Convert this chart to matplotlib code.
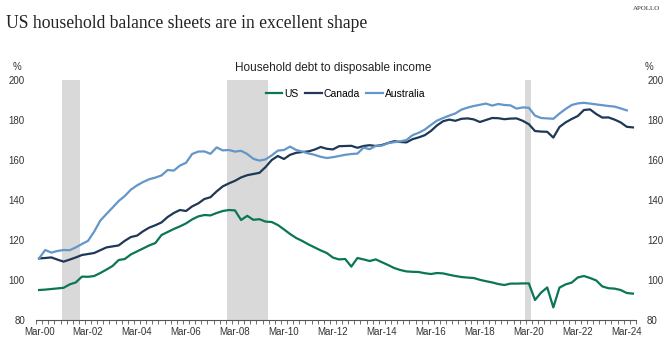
import numpy as np
import matplotlib
matplotlib.use("Agg")
import matplotlib.pyplot as plt

# Household debt to disposable income, %, quarterly from Mar-00
us = [95.0, 95.2, 95.5, 95.8, 96.1, 97.8, 98.8, 101.7, 101.6, 102.0,
      103.5, 105.2, 107.0, 110.0, 110.5, 112.8, 114.3, 115.8, 117.3, 118.5,
      122.5, 124.0, 125.5, 126.8, 128.3, 130.3, 131.8, 132.5, 132.3, 133.5,
      134.5, 135.0, 134.8, 130.0, 132.1, 130.1, 130.4, 129.2, 129.0, 127.5,
      125.3, 123.0, 121.0, 119.5, 117.8, 116.3, 114.8, 113.5, 111.2, 110.3,
      110.5, 106.7, 111.0, 110.3, 109.5, 110.3, 108.9, 107.5, 106.0, 105.0,
      104.3, 104.1, 104.0, 103.4, 103.0, 103.5, 103.3, 102.6, 102.0, 101.5,
      101.2, 101.0, 100.1, 99.4, 98.8, 98.0, 97.5, 98.2, 98.2, 98.3,
      98.3, 90.0, 93.7, 96.3, 86.3, 96.2, 97.8, 98.7, 101.3, 102.0,
      101.0, 99.8, 96.8, 95.9, 95.7, 95.0, 93.5, 93.2]

canada = [110.8, 111.0, 111.3, 110.2, 109.2, 110.2, 111.3, 112.5, 113.0, 113.5,
          114.9, 116.3, 116.8, 117.3, 119.6, 121.5, 122.2, 124.4, 126.2, 127.4,
          128.8, 131.5, 133.5, 135.0, 134.5, 136.8, 138.3, 140.5, 141.4, 144.3,
          146.8, 148.3, 149.6, 151.3, 152.4, 153.0, 153.6, 156.5, 160.0, 162.0,
          160.5, 162.6, 163.6, 164.0, 164.3, 165.2, 166.5, 165.6, 165.3, 166.9,
          167.0, 167.1, 166.1, 167.0, 167.4, 167.0, 167.5, 168.5, 169.4, 169.0,
          168.8, 170.4, 171.3, 172.4, 174.5, 177.3, 179.4, 180.2, 179.6, 180.6,
          180.8, 180.3, 179.0, 180.0, 181.0, 180.9, 180.4, 180.7, 180.8, 179.6,
          177.9, 174.5, 174.2, 174.1, 171.2, 176.5, 178.8, 180.5, 182.0, 185.0,
          185.3, 183.0, 181.2, 181.3, 180.2, 178.8, 176.6, 176.3]

australia = [110.8, 115.0, 113.7, 114.5, 115.0, 114.9, 116.3, 118.0, 119.6, 124.2,
             129.7, 133.0, 136.2, 139.5, 142.0, 145.2, 147.3, 149.0, 150.4, 151.2,
             152.3, 155.0, 154.7, 157.2, 158.6, 163.0, 164.2, 164.3, 163.1, 166.3,
             164.8, 165.0, 164.2, 164.6, 163.0, 160.6, 159.7, 160.3, 162.3, 164.7,
             165.0, 166.7, 165.0, 164.2, 163.3, 162.6, 161.6, 161.0, 161.4, 162.0,
             162.6, 163.0, 163.2, 166.2, 165.4, 167.1, 167.2, 168.4, 168.9, 169.3,
             170.0, 172.4, 173.6, 175.2, 177.5, 179.7, 181.0, 182.2, 183.3, 185.2,
             186.2, 187.0, 187.6, 188.2, 187.2, 188.0, 187.5, 187.3, 185.7, 186.3,
             186.1, 182.2, 181.0, 180.8, 180.6, 183.2, 185.5, 187.5, 188.3, 188.6,
             188.2, 187.8, 187.4, 187.0, 186.7, 185.8, 184.8]

# recession periods as (year, month) start / end
recessions = [((2001, 2), (2001, 11)), ((2007, 11), (2009, 7)), ((2020, 1), (2020, 4))]

label_years = list(range(2000, 2025, 2))
y_ticks = [80, 100, 120, 140, 160, 180, 200]


def to_q(year, month):
    # quarters since Mar-2000
    return (year - 2000) * 4 + (month - 3) / 3


fig = plt.figure(figsize=(6.67, 3.46), dpi=100)
ax = fig.add_axes([0.054, 0.0751, 0.8995, 0.6937])

for (y0, m0), (y1, m1) in recessions:
    ax.axvspan(to_q(y0, m0), to_q(y1, m1), color="#d9d9d9", lw=0, zorder=0)

ax.plot(np.arange(len(us)), us, color="#0b7657", lw=1.6, label="US")
ax.plot(np.arange(len(canada)), canada, color="#1e3855", lw=1.6, label="Canada")
ax.plot(np.arange(len(australia)), australia, color="#6396c9", lw=1.6, label="Australia")

ax.set_xlim(-0.5, 97.5)
ax.set_ylim(80, 200)

for side in ["top", "left", "right"]:
    ax.spines[side].set_visible(False)
ax.spines["bottom"].set_color("#555555")
ax.spines["bottom"].set_linewidth(0.8)

ax.set_xticks([to_q(y, 3) for y in label_years])
ax.set_xticklabels([f"Mar-{y % 100:02d}" for y in label_years])
ax.set_xticks(np.arange(-0.5, 98, 1), minor=True)
ax.tick_params(axis="x", which="major", length=0, pad=5, labelsize=7, labelcolor="#333333")
ax.tick_params(axis="x", which="minor", length=3, width=0.6, color="#555555")

ax.set_yticks(y_ticks)
ax.tick_params(axis="y", length=0, pad=8, labelsize=7, labelcolor="#333333",
               labelleft=True, labelright=True)

for lbl in ax.get_xticklabels() + ax.get_yticklabels():
    lbl.set_family("Liberation Sans")

fig.text(0.009, 0.92, "US household balance sheets are in excellent shape",
         family="Liberation Serif", fontsize=12.7, color="#222222", va="baseline")
fig.text(0.99, 0.975, "APOLLO", family="Liberation Serif", fontsize=5,
         color="#333333", ha="right", va="center")
fig.text(0.5, 0.803, "Household debt to disposable income", family="Liberation Sans",
         fontsize=8.5, color="#222222", ha="center", va="center")
fig.text(0.026, 0.806, "%", family="Liberation Sans", fontsize=7, color="#333333",
         ha="center", va="center")
fig.text(0.973, 0.806, "%", family="Liberation Sans", fontsize=7, color="#333333",
         ha="center", va="center")

fig.legend(loc="center", bbox_to_anchor=(0.518, 0.729), ncol=3, frameon=False,
           prop={"family": "Liberation Sans", "size": 7.5}, handlelength=1.6,
           handletextpad=0.2, columnspacing=0.6)

fig.savefig("out.png", dpi=100)
